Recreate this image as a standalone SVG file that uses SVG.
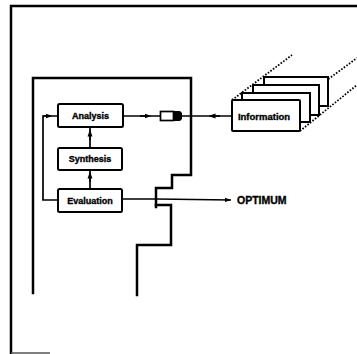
<svg xmlns="http://www.w3.org/2000/svg" width="357" height="354" viewBox="0 0 357 354">
<style>
.fr{fill:none;stroke:#000;stroke-width:2.5;stroke-linecap:square;stroke-linejoin:miter}
.ln{fill:none;stroke:#000;stroke-width:1.7}
.bx{fill:#fff;stroke:#000;stroke-width:2}
.dt{fill:none;stroke:#000;stroke-width:1.8;stroke-dasharray:1.6 1.6}
.t{font-family:"Liberation Sans",Arial,sans-serif;font-weight:bold;font-size:9px;fill:#000;stroke:#000;stroke-width:0.35;text-anchor:middle;dominant-baseline:central}
</style>
<defs>
<marker id="ah" viewBox="0 0 10 10" refX="5" refY="5" markerWidth="7" markerHeight="7" orient="auto" markerUnits="userSpaceOnUse">
<path d="M0,1.5 L10,5 L0,8.5 Z" fill="#000"/>
</marker>
<marker id="ae" viewBox="0 0 10 10" refX="10" refY="5" markerWidth="8" markerHeight="6" orient="auto" markerUnits="userSpaceOnUse">
<path d="M0,1.5 L10,5 L0,8.5 Z" fill="#000"/>
</marker>
</defs>
<rect width="357" height="354" fill="#fff"/>
<g id="frame">
<path class="fr" d="M357,6 L11,6 L11,353"/>
<path d="M11,353 L50,353" stroke="#555" stroke-width="1.5"/>
</g>
<g id="boundary">
<path class="fr" d="M33,293 L33,78 L191,78 L191,175 L172,175 L172,188 L156,188 L156,207"/>
<path class="fr" d="M156,205 L171,205 L171,245 L137,245 L137,295"/>
</g>
<g id="connectors">
<path class="ln" d="M58,200 L43,200 L43,116 L58,116"/>
<path class="ln" d="M43,116 L49,116" marker-end="url(#ah)"/>
<path class="ln" d="M90,148 L90,127"/>
<path class="ln" d="M90,140 L90,133" marker-end="url(#ah)"/>
<path class="ln" d="M90,189 L90,170"/>
<path class="ln" d="M90,182 L90,175" marker-end="url(#ah)"/>
<path class="ln" d="M123,116 L160,116"/>
<path class="ln" d="M140,116 L148,116" marker-end="url(#ah)"/>
<path class="ln" d="M181,116 L232,116"/>
<path class="ln" d="M220,116 L212,116" marker-end="url(#ah)"/>
<path class="ln" d="M122,199 L156,199 L231,200" marker-end="url(#ae)"/>
</g>
<g id="plug">
<rect x="160.5" y="111.5" width="13" height="9" fill="#fff" stroke="#000" stroke-width="1.7"/>
<path d="M173,111 L180,111 L182,113 L182,119 L180,121 L173,121 Z" fill="#000"/>
</g>
<g id="analysis">
<rect class="bx" x="58" y="104" width="65" height="23" rx="1.5"/>
<text class="t" x="90.5" y="115.5">Analysis</text>
</g>
<g id="synthesis">
<rect class="bx" x="58" y="148" width="64" height="22" rx="1.5"/>
<text class="t" x="90" y="159">Synthesis</text>
</g>
<g id="evaluation">
<rect class="bx" x="58" y="189" width="64" height="23" rx="1.5"/>
<text class="t" x="90" y="200.5">Evaluation</text>
</g>
<g id="information">
<path class="dt" d="M232,100 L292,55"/>
<path class="dt" d="M300,100 L357,58"/>
<path class="dt" d="M300,131 L357,85"/>
<rect class="bx" x="264" y="77" width="64" height="29"/>
<rect class="bx" x="253" y="85" width="66" height="30"/>
<rect class="bx" x="242" y="93" width="68" height="29"/>
<rect class="bx" x="232" y="100" width="68" height="31" rx="1"/>
<text class="t" x="264" y="116" style="font-size:9.5px">Information</text>
</g>
<g id="optimum">
<text class="t" x="237" y="200" style="font-size:10.5px;text-anchor:start">OPTIMUM</text>
</g>
</svg>
